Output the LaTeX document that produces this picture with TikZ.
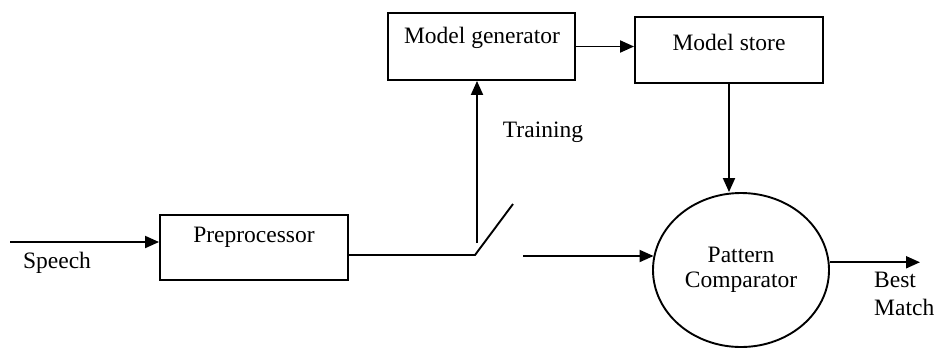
\documentclass[tikz,border=0pt]{standalone}
\usepackage{fontspec}
\setmainfont{Liberation Serif}
\usetikzlibrary{arrows.meta,shapes.geometric}
\begin{document}
\begin{tikzpicture}[x=1pt,y=-1pt,
  every node/.style={font=\fontsize{23.5}{27}\selectfont, inner sep=0pt},
  wire/.style={line width=1.9pt},
  flow/.style={wire,-{Triangle[length=14pt,width=12pt]}},
  block/.style={draw,line width=1.9pt,rectangle},
  comp/.style={draw,line width=1.9pt,ellipse,minimum width=176pt,minimum height=154pt}
]
\useasboundingbox (0,0) rectangle (936,349);

% processing blocks
\node[block,minimum width=188pt,minimum height=65pt] (pre) at (254,247.5) {};
\node (pretxt) at (254,237) {Preprocessor};
\node[block,minimum width=187pt,minimum height=67pt] (gen) at (481.5,46.5) {};
\node (gentxt) at (482,38) {Model generator};
\node[block,minimum width=188pt,minimum height=66pt] (store) at (729,50) {};
\node (storetxt) at (729,42) {Model store};
\node[comp,align=center,font=\fontsize{23.5}{25}\selectfont] (cmp) at (741,270) {Pattern\\Comparator};

% free ends and the training switch
\coordinate (src) at (10,242);
\coordinate (sw0) at (475,255);
\coordinate (sw1) at (513,204);
\coordinate (tr) at (477,243);
\coordinate (in) at (523,256);
\coordinate (out) at (920,262);

% connectors
\draw[flow] (src) -- (src -| pre.west);
\draw[wire] (pre.east |- sw0) -- (sw0) -- (sw1);
\draw[flow] (tr) -- (tr |- gen.south);
\draw[flow] (gen.east) -- (gen.east -| store.west);
\draw[flow] (store.south) -- (store.south |- cmp.north);
\draw[flow] (in) -- ([xshift=1.5pt]in -| cmp.west);
\draw[flow] (cmp.5) -- (cmp.5 -| out);

% labels
\node (speech) at (57,263) {Speech};
\node (training) at (543,132) {Training};
\node[align=left,anchor=north west,font=\fontsize{23.5}{28}\selectfont] (best) at (874,272) {Best\\Match};
\end{tikzpicture}
\end{document}
